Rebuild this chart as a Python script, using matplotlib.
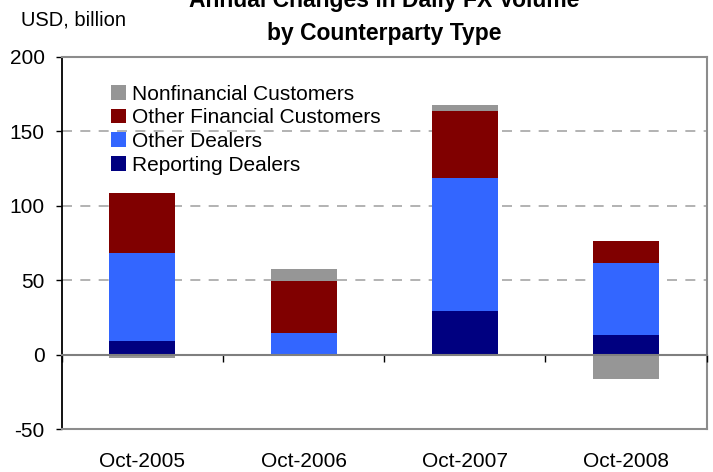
"""
Annual changes in daily FX volume by counterparty type (stacked bars).
"""

import numpy as np
import matplotlib
matplotlib.use("Agg")
import matplotlib.pyplot as plt
from matplotlib.patches import Patch

# ── Data (USD billion) ────────────────────────────────────────────────────────
periods            = ["Oct-2005", "Oct-2006", "Oct-2007", "Oct-2008"]
reporting_dealers  = [9.2, 0.0, 29.3, 13.2]
other_dealers      = [59.3, 14.6, 89.3, 48.3]
other_financial    = [40.0, 34.9, 45.0, 14.8]
nonfinancial       = [-2.4, 8.0, 4.0, -16.1]

series_names = ["Reporting Dealers", "Other Dealers",
                "Other Financial Customers", "Nonfinancial Customers"]
yticks = [-50, 0, 50, 100, 150, 200]

# ── Style ─────────────────────────────────────────────────────────────────────
COLORS   = ["#000080", "#3366FF", "#800000", "#969696"]
FONT     = "Liberation Sans"
FS       = 15
W, H     = 713, 472
BAR_W    = 0.41

plt.rcParams["font.family"] = [FONT, "DejaVu Sans"]

fig = plt.figure(figsize=(W / 100, H / 100), dpi=100)
ax = fig.add_axes([61.7 / W, 42.7 / H, 645 / W, 372.3 / H])

x = np.arange(len(periods))
series = [reporting_dealers, other_dealers, other_financial, nonfinancial]

# stack positives upward and negatives downward from zero
pos_bottom = np.zeros(len(periods))
neg_bottom = np.zeros(len(periods))
for vals, color in zip(series, COLORS):
    vals = np.asarray(vals, dtype=float)
    bottom = np.where(vals >= 0, pos_bottom, neg_bottom)
    ax.bar(x, vals, BAR_W, bottom=bottom, color=color, linewidth=0, zorder=3)
    pos_bottom += np.where(vals >= 0, vals, 0)
    neg_bottom += np.where(vals < 0, vals, 0)

# ── Axes ──────────────────────────────────────────────────────────────────────
ax.set_xlim(-0.5, len(periods) - 0.5)
ax.set_ylim(-50, 200)
ax.set_yticks(yticks)
ax.set_yticklabels([str(v) for v in yticks], fontsize=FS)
ax.tick_params(axis="y", direction="out", length=4.3, width=1,
               color="black", pad=8)

ax.set_xticks(x)
ax.set_xticklabels(periods, fontsize=FS)
ax.tick_params(axis="x", length=0, pad=16)

for v in [50, 100, 150]:
    ax.axhline(v, color="#A6A6A6", linewidth=1.2, linestyle=(0, (6, 5)),
               zorder=1)

ax.spines["left"].set_color("black")
ax.spines["left"].set_linewidth(1.3)
for side in ["top", "right", "bottom"]:
    ax.spines[side].set_color("#8C8C8C")
    ax.spines[side].set_linewidth(1.5)

# category axis crossing at zero, ticks between categories
zero_ax = ax.secondary_xaxis(50 / 250)
zero_ax.set_xticks(np.arange(-0.5, len(periods)))
zero_ax.set_xticklabels([])
zero_ax.tick_params(length=5, width=1, color="black", direction="out")
zero_ax.spines["bottom"].set_color("#7F7F7F")
zero_ax.spines["bottom"].set_linewidth(1.5)
zero_ax.set_zorder(4)

# ── Legend (reverse stacking order, no frame) ─────────────────────────────────
handles = [Patch(facecolor=c, edgecolor="none", label=n)
           for c, n in zip(COLORS, series_names)][::-1]
ax.legend(handles=handles, loc="upper left",
          bbox_to_anchor=(49 / 645, 1 - 27.5 / 372.3),
          frameon=False, fontsize=FS, handlelength=0.72, handleheight=0.72,
          handletextpad=0.3, labelspacing=0.23, borderpad=0, borderaxespad=0)

# ── Titles ────────────────────────────────────────────────────────────────────
cx = (61.7 + 645 / 2) / W
fig.text(cx, 1 - 7 / H, "Annual Changes in Daily FX Volume",
         ha="center", va="baseline", fontsize=16.5, fontweight="bold")
fig.text(cx, 1 - 40 / H, "by Counterparty Type",
         ha="center", va="baseline", fontsize=16.5, fontweight="bold")
fig.text(21 / W, 1 - 26 / H, "USD, billion", ha="left", va="baseline",
         fontsize=14.5)

fig.savefig("out.png", dpi=100)
plt.close(fig)
